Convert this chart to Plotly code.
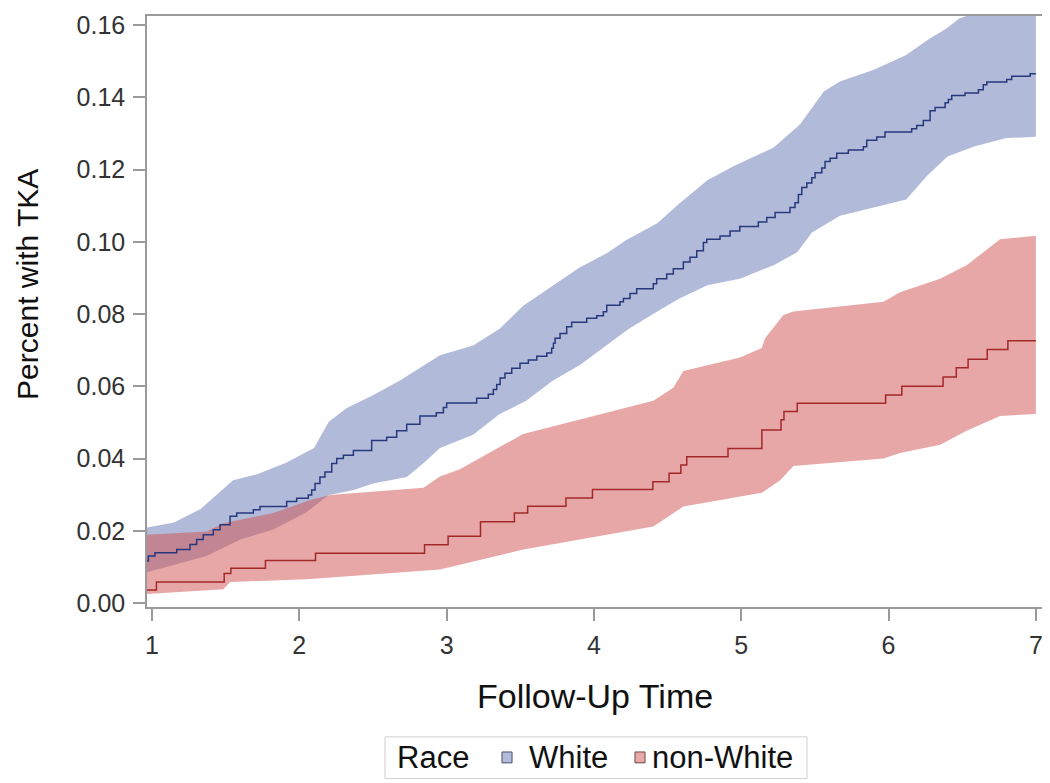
import plotly.graph_objects as go

# ---- data ----
# White: step times and cumulative incidence
white_t = [0.966, 0.975, 1.02, 1.168, 1.258, 1.303, 1.348, 1.416, 1.462, 1.53, 1.575, 1.688, 1.733,
           1.914, 1.982, 2.061, 2.084, 2.107, 2.14, 2.174, 2.22, 2.254, 2.299, 2.367, 2.491, 2.593,
           2.661, 2.729, 2.819, 2.93, 2.978, 3.0, 3.204, 3.283, 3.317, 3.34, 3.363, 3.396, 3.442,
           3.498, 3.555, 3.612, 3.68, 3.713, 3.725, 3.736, 3.77, 3.815, 3.849, 3.951, 4.019, 4.064,
           4.087, 4.177, 4.2, 4.245, 4.29, 4.403, 4.426, 4.494, 4.539, 4.607, 4.652, 4.698, 4.743,
           4.766, 4.856, 4.924, 4.99, 5.116, 5.173, 5.23, 5.331, 5.365, 5.388, 5.411, 5.445, 5.479,
           5.501, 5.547, 5.569, 5.603, 5.648, 5.727, 5.829, 5.852, 5.92, 5.976, 6.157, 6.191, 6.236,
           6.282, 6.316, 6.384, 6.406, 6.429, 6.519, 6.61, 6.643, 6.667, 6.802, 6.836, 6.961, 7.0]
white_y = [0.0116, 0.0130, 0.0139, 0.0148, 0.0162, 0.0176, 0.0189, 0.0203, 0.0217, 0.0240, 0.0249,
           0.0258, 0.0267, 0.0281, 0.0290, 0.0299, 0.0313, 0.0331, 0.0349, 0.0363, 0.0386, 0.0400,
           0.0409, 0.0422, 0.0450, 0.0459, 0.0477, 0.0495, 0.0518, 0.0527, 0.0541, 0.0554, 0.0567,
           0.0578, 0.0591, 0.0605, 0.0623, 0.0636, 0.0650, 0.0664, 0.0673, 0.0683, 0.0692, 0.0705,
           0.0719, 0.0733, 0.0746, 0.0765, 0.0777, 0.0788, 0.0795, 0.0806, 0.0824, 0.0834, 0.0843,
           0.0857, 0.0870, 0.0884, 0.0898, 0.0911, 0.0925, 0.0944, 0.0957, 0.0975, 0.0998, 0.1007,
           0.1016, 0.1030, 0.1042, 0.1055, 0.1067, 0.1081, 0.1095, 0.1108, 0.1131, 0.1150, 0.1163,
           0.1177, 0.1191, 0.1204, 0.1222, 0.1231, 0.1245, 0.1254, 0.1263, 0.1281, 0.1290, 0.1304,
           0.1313, 0.1322, 0.1336, 0.1363, 0.1372, 0.1385, 0.1394, 0.1405, 0.1412, 0.1421, 0.1435,
           0.1442, 0.1449, 0.1458, 0.1465, 0.1465]

# White confidence band
white_up_t = [0.966, 1.15, 1.33, 1.55, 1.71, 1.91, 2.1, 2.2, 2.32, 2.5, 2.68, 2.955, 3.18, 3.36,
              3.52, 3.72, 3.90, 4.09, 4.22, 4.43, 4.58, 4.77, 4.95, 5.22, 5.40, 5.56, 5.67, 5.90,
              6.12, 6.28, 6.39, 6.48, 6.7, 7.0]
white_up = [0.0209, 0.0223, 0.0260, 0.0340, 0.0356, 0.0388, 0.0429, 0.0502, 0.0539, 0.0575, 0.0615,
            0.0686, 0.0713, 0.0759, 0.0823, 0.0878, 0.0928, 0.0969, 0.1005, 0.1051, 0.1106, 0.1170,
            0.1210, 0.1261, 0.1325, 0.1416, 0.1444, 0.1476, 0.1517, 0.1563, 0.1590, 0.1618, 0.1650,
            0.1680]
white_lo_t = [0.966, 1.37, 1.6, 1.82, 2.04, 2.2, 2.37, 2.5, 2.73, 2.85, 2.955, 3.18, 3.36, 3.54,
              3.72, 3.91, 4.09, 4.24, 4.43, 4.58, 4.77, 4.99, 5.22, 5.38, 5.48, 5.67, 5.90, 6.12,
              6.26, 6.40, 6.58, 6.80, 7.0]
white_lo = [0.0085, 0.0130, 0.0176, 0.0203, 0.0249, 0.0299, 0.0313, 0.0331, 0.0349, 0.0390, 0.0429,
            0.0466, 0.0523, 0.0560, 0.0615, 0.0660, 0.0715, 0.0760, 0.0807, 0.0843, 0.0880, 0.0898,
            0.0935, 0.0971, 0.1026, 0.1072, 0.1095, 0.1117, 0.1182, 0.1236, 0.1264, 0.1287, 0.1291]

# non-White: step times and cumulative incidence
nonwhite_t = [0.966, 1.03, 1.49, 1.535, 1.77, 2.11, 2.85, 3.01, 3.23, 3.46, 3.55, 3.81, 3.99, 4.40,
              4.51, 4.59, 4.63, 4.91, 5.14, 5.27, 5.29, 5.38, 5.98, 6.09, 6.37, 6.46, 6.54, 6.67,
              6.81, 7.0]
nonwhite_y = [0.0036, 0.0058, 0.0082, 0.0096, 0.0118, 0.0138, 0.0161, 0.0185, 0.0225, 0.0249, 0.0268,
              0.0291, 0.0314, 0.0336, 0.0359, 0.0382, 0.0405, 0.0428, 0.0479, 0.0507, 0.0530, 0.0553,
              0.0576, 0.0600, 0.0626, 0.0651, 0.0675, 0.0702, 0.0726, 0.0726]

# non-White confidence band
nonwhite_up_t = [0.966, 1.371, 1.484, 1.824, 2.073, 2.209, 2.843, 2.955, 3.09, 3.52, 4.403, 4.539,
                 4.607, 4.992, 5.139, 5.162, 5.286, 5.354, 5.965, 6.078, 6.35, 6.53, 6.757, 7.0]
nonwhite_up = [0.0189, 0.0198, 0.0221, 0.0249, 0.0285, 0.0299, 0.0319, 0.0350, 0.0370, 0.0468,
               0.0560, 0.0596, 0.0642, 0.0680, 0.0706, 0.0733, 0.0797, 0.0807, 0.0834, 0.0860,
               0.0898, 0.0935, 0.1007, 0.1017]
nonwhite_lo_t = [0.966, 1.484, 1.53, 2.05, 2.503, 2.955, 3.52, 4.403, 4.607, 4.992, 5.139, 5.264,
                 5.354, 5.965, 6.078, 6.35, 6.53, 6.757, 7.0]
nonwhite_lo = [0.0025, 0.0038, 0.0058, 0.0066, 0.0080, 0.0093, 0.0148, 0.0212, 0.0267, 0.0294,
               0.0305, 0.0340, 0.0379, 0.0400, 0.0415, 0.0438, 0.0477, 0.0518, 0.0523]

legend_title = "Race"
groups = ["White", "non-White"]
x_ticks = [1, 2, 3, 4, 5, 6, 7]
y_ticks = [0.00, 0.02, 0.04, 0.06, 0.08, 0.10, 0.12, 0.14, 0.16]

# ---- styles ----
FONT = "Arial, 'Liberation Sans', sans-serif"
blue_fill = "rgba(100,120,180,0.5)"
red_fill = "rgba(210,80,80,0.5)"
blue_line = "#27387E"
red_line = "#A3282A"
swatch_fill = ["#B2BCDA", "#E8A8A8"]
swatch_edge = ["#4a5066", "#6a4a4a"]

fig = go.Figure()

fig.add_trace(go.Scatter(
    x=white_up_t + white_lo_t[::-1], y=white_up + white_lo[::-1],
    fill="toself", fillcolor=blue_fill, line=dict(width=0), mode="lines",
    name=groups[0] + " 95% CI", showlegend=False, hoverinfo="skip"))
fig.add_trace(go.Scatter(
    x=nonwhite_up_t + nonwhite_lo_t[::-1], y=nonwhite_up + nonwhite_lo[::-1],
    fill="toself", fillcolor=red_fill, line=dict(width=0), mode="lines",
    name=groups[1] + " 95% CI", showlegend=False, hoverinfo="skip"))
fig.add_trace(go.Scatter(
    x=white_t, y=white_y, mode="lines", name=groups[0],
    line=dict(color=blue_line, width=1.5, shape="hv"), showlegend=False))
fig.add_trace(go.Scatter(
    x=nonwhite_t, y=nonwhite_y, mode="lines", name=groups[1],
    line=dict(color=red_line, width=1.5, shape="hv"), showlegend=False))

axis_common = dict(
    showgrid=False, zeroline=False, showline=True, mirror=True,
    linecolor="#9a9a9a", linewidth=1.5, ticks="outside", ticklen=12,
    tickcolor="#9a9a9a", tickwidth=1.5, ticklabelstandoff=3,
    ticklabeloverflow="allow",
    tickfont=dict(family=FONT, size=25, color="#333333"),
)

fig.update_xaxes(range=[0.966, 7.062], tickvals=x_ticks,
                 ticktext=[str(v) for v in x_ticks], **axis_common)
fig.update_yaxes(range=[-0.0011, 0.1625], tickvals=y_ticks,
                 ticktext=[f"{v:.2f}" for v in y_ticks], **axis_common)

# page has an 8px body margin; the figure is sized so the plot sits where the reference's does
fig.update_layout(
    width=1042, height=775,
    margin=dict(l=139, r=5, t=3, b=176),
    paper_bgcolor="white", plot_bgcolor="white",
    showlegend=False,
)

fig.add_annotation(text="Follow-Up Time", xref="paper", yref="paper", x=0.499, y=-0.151,
                   xanchor="center", yanchor="middle", showarrow=False,
                   font=dict(family=FONT, size=34, color="#111111"))
fig.add_annotation(text="Percent with TKA", xref="paper", yref="paper", x=-0.1325, y=0.545,
                   xanchor="center", yanchor="middle", textangle=-90, showarrow=False,
                   font=dict(family=FONT, size=30, color="#111111"))

# legend box (drawn in paper coordinates below the plot)
leg_font = dict(family=FONT, size=31, color="#111111")
fig.add_shape(type="rect", xref="paper", yref="paper", x0=0.265, x1=0.735, y0=-0.2903, y1=-0.2198,
              line=dict(color="#cfcfcf", width=1), fillcolor="white", layer="above")
leg_y = -0.2545
fig.add_annotation(text=legend_title, xref="paper", yref="paper", x=0.2762, y=leg_y,
                   xanchor="left", yanchor="middle", showarrow=False, font=leg_font)
sq_x = [0.3953, 0.5434]
txt_x = [0.4232, 0.5601]
for i, g in enumerate(groups):
    fig.add_shape(type="rect", xref="paper", yref="paper", x0=sq_x[i], x1=sq_x[i] + 0.0112,
                  y0=leg_y - 0.0092, y1=leg_y + 0.0092,
                  line=dict(color=swatch_edge[i], width=1), fillcolor=swatch_fill[i], layer="above")
    fig.add_annotation(text=g, xref="paper", yref="paper", x=txt_x[i], y=leg_y,
                       xanchor="left", yanchor="middle", showarrow=False, font=leg_font)

fig.write_html("out.html")
